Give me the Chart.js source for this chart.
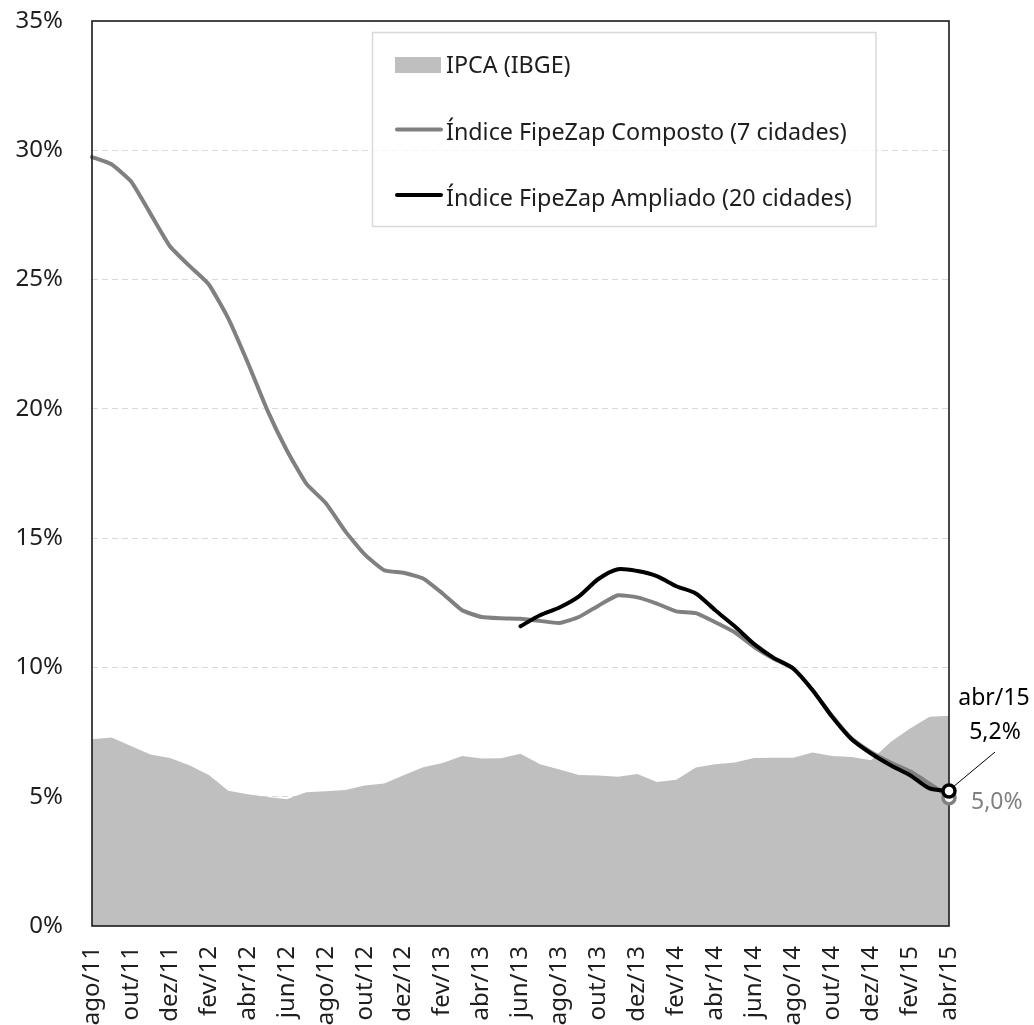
<!DOCTYPE html>
<html>
<head>
<meta charset="utf-8">
<script src="https://cdn.jsdelivr.net/npm/chart.js@4/dist/chart.umd.min.js"></script>
<style>
html,body{margin:0;padding:0;background:#fff;}
canvas{display:block;}
</style>
</head>
<body>
<canvas id="c" width="1034" height="1025"></canvas>
<script>
const categories = ["ago/11","set/11","out/11","nov/11","dez/11","jan/12","fev/12","mar/12","abr/12","mai/12","jun/12","jul/12","ago/12","set/12","out/12","nov/12","dez/12","jan/13","fev/13","mar/13","abr/13","mai/13","jun/13","jul/13","ago/13","set/13","out/13","nov/13","dez/13","jan/14","fev/14","mar/14","abr/14","mai/14","jun/14","jul/14","ago/14","set/14","out/14","nov/14","dez/14","jan/15","fev/15","mar/15","abr/15"];
const ipca = [7.22,7.29,6.96,6.63,6.50,6.22,5.84,5.23,5.10,4.99,4.90,5.17,5.21,5.26,5.43,5.51,5.83,6.14,6.30,6.57,6.48,6.49,6.66,6.26,6.05,5.84,5.82,5.77,5.88,5.57,5.66,6.13,6.26,6.32,6.50,6.51,6.51,6.71,6.57,6.54,6.41,7.12,7.64,8.09,8.13];
const composto = [29.74,29.46,28.80,27.55,26.29,25.53,24.81,23.49,21.78,19.95,18.40,17.11,16.36,15.27,14.37,13.76,13.66,13.44,12.86,12.21,11.95,11.90,11.88,11.80,11.72,11.95,12.39,12.79,12.71,12.47,12.17,12.10,11.75,11.36,10.79,10.34,9.96,9.12,8.12,7.25,6.72,6.32,5.98,5.50,5.00];
const ampliado = [null,null,null,null,null,null,null,null,null,null,null,null,null,null,null,null,null,null,null,null,null,null,11.59,12.02,12.32,12.75,13.42,13.80,13.73,13.53,13.14,12.86,12.21,11.59,10.90,10.37,9.96,9.12,8.09,7.22,6.67,6.22,5.83,5.32,5.22];
const seriesNames = ["IPCA (IBGE)","Índice FipeZap Composto (7 cidades)","Índice FipeZap Ampliado (20 cidades)"];
const endLabel = "abr/15";
const endValueAmpliado = "5,2%";
const endValueComposto = "5,0%";

const FONT = '"Noto Sans", "Open Sans", sans-serif';
const TXT = '#1e1e1e';

const decor = {
  id: 'decor',
  afterDatasetsDraw(chart) {
    const ctx = chart.ctx, a = chart.chartArea;
    const xs = chart.scales.x, ys = chart.scales.y;
    ctx.save();
    ctx.strokeStyle = '#1a1a1a';
    ctx.lineWidth = 1.6;
    ctx.strokeRect(a.left, a.top, a.right - a.left, a.bottom - a.top);
    const last = categories.length - 1;
    const px = xs.getPixelForValue(last);
    const pyG = ys.getPixelForValue(composto[last]);
    const pyB = ys.getPixelForValue(ampliado[last]);
    ctx.beginPath(); ctx.arc(px, pyG + 1, 6, 0, Math.PI * 2);
    ctx.fillStyle = '#fff'; ctx.fill();
    ctx.lineWidth = 3.5; ctx.strokeStyle = '#808080'; ctx.stroke();
    ctx.beginPath(); ctx.arc(px, pyB, 6, 0, Math.PI * 2);
    ctx.fillStyle = '#fff'; ctx.fill();
    ctx.lineWidth = 3.5; ctx.strokeStyle = '#000'; ctx.stroke();
    ctx.beginPath();
    ctx.moveTo(px + 4, pyB - 4);
    ctx.lineTo(px + 46, pyB - 39);
    ctx.lineWidth = 1; ctx.strokeStyle = '#000'; ctx.stroke();
    ctx.font = '23px ' + FONT;
    ctx.fillStyle = '#000';
    ctx.textAlign = 'center';
    ctx.textBaseline = 'alphabetic';
    ctx.fillText(endLabel, px + 45, pyB - 86);
    ctx.fillText(endValueAmpliado, px + 46, pyB - 52);
    ctx.fillStyle = '#808080';
    ctx.textAlign = 'left';
    ctx.fillText(endValueComposto, px + 22, pyG + 12);
    ctx.restore();
  },
  afterDraw(chart) {
    const ctx = chart.ctx;
    ctx.save();
    const bx = 372.5, by = 32.5, bw = 503.5, bh = 194;
    ctx.fillStyle = 'rgba(255,255,255,0.75)';
    ctx.fillRect(bx, by, bw, bh);
    ctx.strokeStyle = '#d9d9d9';
    ctx.lineWidth = 1.5;
    ctx.strokeRect(bx, by, bw, bh);
    const rows = [73, 140, 205.5];
    const ds = chart.data.datasets;
    ctx.fillStyle = ds[0].backgroundColor;
    ctx.fillRect(395, 57, 46, 16);
    ctx.lineCap = 'round';
    [1, 2].forEach(k => {
      const yy = rows[k] - 10.5;
      ctx.beginPath(); ctx.moveTo(397, yy); ctx.lineTo(441, yy);
      ctx.strokeStyle = ds[k].borderColor; ctx.lineWidth = 4; ctx.stroke();
    });
    let fs = 24;
    ctx.font = fs + 'px ' + FONT;
    const w = ctx.measureText(seriesNames[2]).width;
    fs = Math.min(25, fs * 406 / w);
    ctx.font = fs + 'px ' + FONT;
    ctx.fillStyle = TXT;
    ctx.textAlign = 'left';
    ctx.textBaseline = 'alphabetic';
    seriesNames.forEach((n, k) => ctx.fillText(n, 446, rows[k]));
    ctx.restore();
  }
};

new Chart(document.getElementById('c'), {
  type: 'line',
  data: {
    labels: categories,
    datasets: [
      { label: seriesNames[0], data: ipca, fill: 'origin', backgroundColor: '#bfbfbf', borderWidth: 0, borderColor: 'rgba(0,0,0,0)', pointRadius: 0, tension: 0, order: 3 },
      { label: seriesNames[1], data: composto, fill: false, borderColor: '#808080', borderWidth: 4, pointRadius: 0, tension: 0.15, borderJoinStyle: 'round', borderCapStyle: 'round', order: 2 },
      { label: seriesNames[2], data: ampliado, fill: false, borderColor: '#000000', borderWidth: 4, pointRadius: 0, tension: 0.25, spanGaps: false, borderJoinStyle: 'round', borderCapStyle: 'round', order: 1 }
    ]
  },
  options: {
    responsive: false,
    animation: false,
    devicePixelRatio: 1,
    layout: { padding: { top: 21, right: 85, left: 0, bottom: 0 } },
    plugins: { legend: { display: false }, tooltip: { enabled: false } },
    scales: {
      x: {
        type: 'category',
        offset: false,
        grid: { display: false, drawTicks: false },
        border: { display: false },
        ticks: {
          autoSkip: false, maxRotation: 90, minRotation: 90, padding: 20,
          font: { family: FONT, size: 24 }, color: TXT,
          callback: (v, i) => (i % 2 === 0 ? categories[i] : '')
        },
        afterFit: s => { s.height = 99; s.paddingTop = 0; s.paddingBottom = 0; }
      },
      y: {
        min: 0, max: 35,
        grid: {
          drawTicks: false,
          color: c => (c.tick && (c.tick.value === 0 || c.tick.value === 35)) ? 'rgba(0,0,0,0)' : '#d9d9d9',
          lineWidth: 1
        },
        border: { display: false, dash: [6, 4] },
        ticks: {
          stepSize: 5, padding: 29,
          font: { family: FONT, size: 24 }, color: TXT,
          callback: v => v + '%'
        },
        afterFit: s => { s.width = 92; s.paddingTop = 0; s.paddingBottom = 0; }
      }
    }
  },
  plugins: [decor]
});
</script>
</body>
</html>
